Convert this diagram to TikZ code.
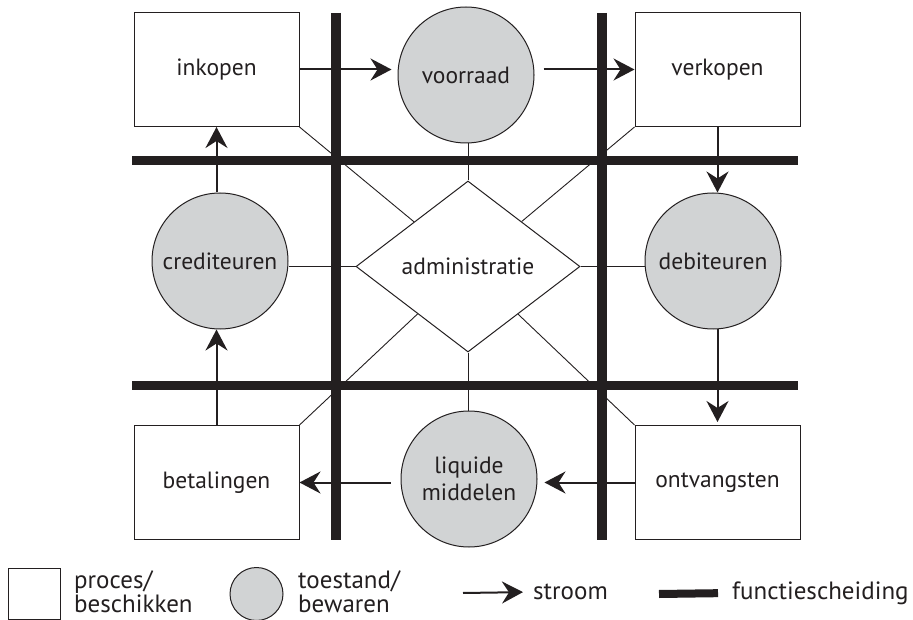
\documentclass[tikz,border=0pt]{standalone}
\usepackage{fontspec}
\setmainfont{PT Sans}
\usetikzlibrary{shapes.geometric, arrows.meta}
\definecolor{ink}{RGB}{35,31,32}
\definecolor{vulling}{RGB}{209,211,212}
\tikzset{
  proces/.style={draw=ink, line width=1pt, minimum width=165pt, minimum height=114pt, inner sep=0pt},
  toestand/.style={circle, draw=ink, line width=1pt, fill=vulling, minimum size=136pt, inner sep=0pt, align=center},
  admin/.style={diamond, draw=ink, line width=1pt, minimum width=224pt, minimum height=171pt, inner sep=0pt},
  stroom/.style={->, draw=ink, line width=2pt},
  scheiding/.style={draw=ink, line width=9.5pt},
  link/.style={draw=ink, line width=0.9pt},
  legenda/.style={anchor=west, align=left, inner sep=1pt, font=\fontsize{25}{24}\selectfont}
}
\begin{document}
\begin{tikzpicture}[x=1pt, y=-1pt, >={Stealth[length=21pt, width=22pt, inset=7pt]},
    text=ink, font=\fontsize{23.5}{27}\selectfont]
  \useasboundingbox (0,0) rectangle (913,620);

  % processen en toestanden
  \foreach \n/\x/\y in {inkopen/216.5/69.5, verkopen/717.5/69.5, betalingen/216.5/482.5, ontvangsten/717.5/482.5}
    \node [proces] (\n) at (\x,\y) {\n};

  \foreach \n/\t/\x/\y in {voorraad/voorraad/466/75, crediteuren/crediteuren/220/261,
      debiteuren/debiteuren/713/261, liquide/{liquide\\middelen}/469/479}
    \node [toestand] (\n) at (\x,\y) {\t};

  \node [admin] (adm) at (468,266.5) {administratie};

  % functiescheiding
  \foreach \x in {336,602}
    \draw [scheiding] (\x,13) -- (\x,540);
  \foreach \y in {160.5,385.5}
    \draw [scheiding] (132,\y) -- (798,\y);

  % verbindingen met de administratie
  \draw [link] (adm.north) -- (adm.north |- voorraad.south);
  \draw [link] (adm.south) -- (adm.south |- liquide.north);
  \draw [link] (adm.west) -- (adm.west -| crediteuren.east);
  \draw [link] (adm.east) -- (adm.east -| debiteuren.west);
  \foreach \b in {inkopen.south east, verkopen.south west, betalingen.north east, ontvangsten.north west}
    \draw [link] (\b) -- (adm);

  % de stromen
  \draw [stroom, shorten >=6pt] (inkopen.east) -- (inkopen.east -| voorraad.west);
  \draw [stroom, shorten <=9pt] (verkopen.west -| voorraad.east) -- (verkopen.west);
  \draw [stroom] (verkopen.south) -- (verkopen.south |- debiteuren.north);
  \draw [stroom, shorten >=3pt] (debiteuren.south -| ontvangsten.north) -- (ontvangsten.north);
  \draw [stroom, shorten >=7pt] (ontvangsten.west) -- (ontvangsten.west -| liquide.east);
  \draw [stroom, shorten <=10pt] (betalingen.east -| liquide.west) -- (betalingen.east);
  \draw [stroom] (betalingen.north) -- (betalingen.north |- crediteuren.south);
  \draw [stroom] (crediteuren.north -| inkopen.south) -- (inkopen.south);

  % legenda
  \node [proces, minimum width=52pt, minimum height=51pt] (leg-proces) at (34,594) {};
  \node [legenda] (leg-proces-tekst) at (73,592) {proces/\\beschikken};
  \node [toestand, minimum size=53pt] (leg-toestand) at (256.5,594) {};
  \node [legenda] (leg-toestand-tekst) at (297,592) {toestand/\\bewaren};
  \coordinate (leg-pijl) at (463,593);
  \node [legenda] (leg-stroom) at (532,592) {stroom};
  \draw [stroom, shorten >=9pt] (leg-pijl) -- (leg-stroom.west);
  \coordinate (leg-balk) at (659,594);
  \node [legenda] (leg-scheiding) at (731,593) {functiescheiding};
  \draw [scheiding, line width=8pt, shorten >=13pt] (leg-balk) -- (leg-scheiding.west);
\end{tikzpicture}
\end{document}
